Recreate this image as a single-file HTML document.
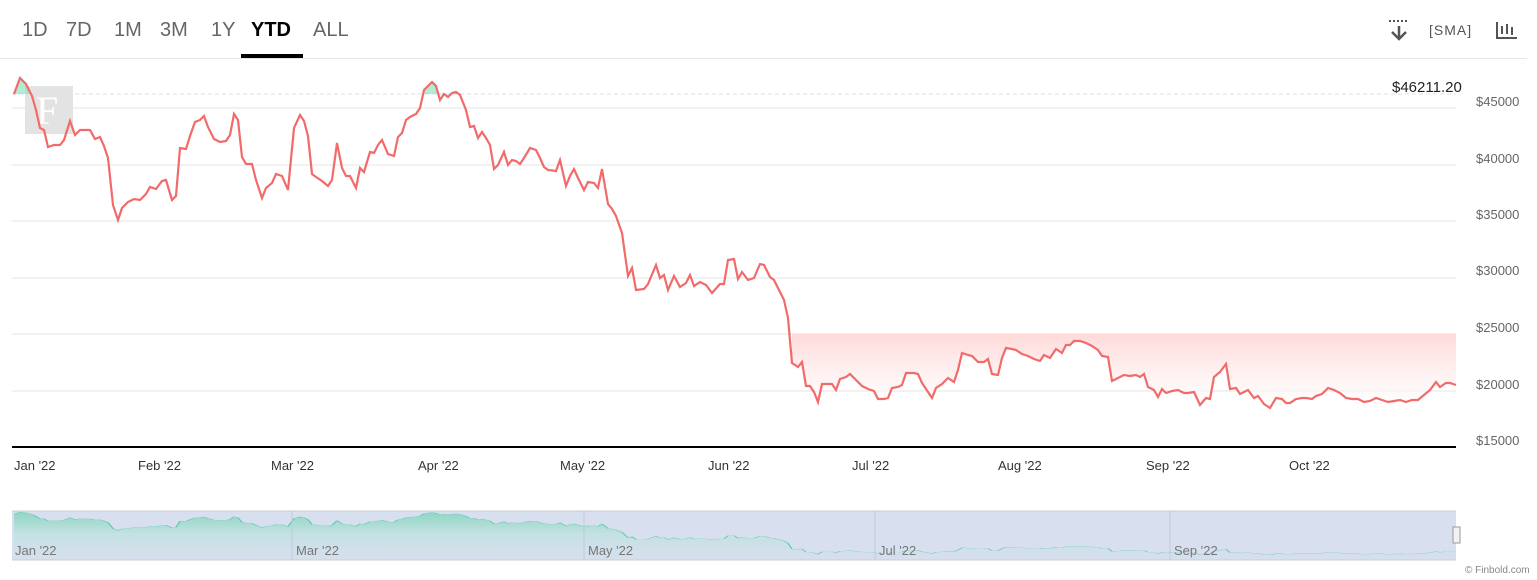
<!DOCTYPE html>
<html><head><meta charset="utf-8"><style>
body{margin:0;width:1537px;height:580px;background:#fff;font-family:"Liberation Sans",sans-serif;overflow:hidden;position:relative}
.tab{position:absolute;top:19px;font-size:20px;color:#666}
</style></head><body>
<div class="tab" style="left:22px">1D</div>
<div class="tab" style="left:66px">7D</div>
<div class="tab" style="left:114px">1M</div>
<div class="tab" style="left:160px">3M</div>
<div class="tab" style="left:211px">1Y</div>
<div class="tab" style="left:251px;color:#000;font-weight:bold">YTD</div>
<div class="tab" style="left:313px">ALL</div>
<div style="position:absolute;left:241px;top:54px;width:62px;height:4px;background:#000"></div>
<div style="position:absolute;left:0;top:58px;width:1527px;height:1px;background:#e6e6e6"></div>
<div style="position:absolute;left:1429px;top:22px;font-size:14px;color:#555;letter-spacing:1px">[SMA]</div>
<svg width="1537" height="580" style="position:absolute;left:0;top:0">
<defs>
<linearGradient id="pk" x1="0" y1="0" x2="0" y2="1"><stop offset="0" stop-color="#ffd6d6" stop-opacity=".9"/><stop offset="1" stop-color="#fff" stop-opacity=".6"/></linearGradient>
<linearGradient id="nv" gradientUnits="userSpaceOnUse" x1="0" y1="78" x2="0" y2="447"><stop offset="0" stop-color="#8fd6c2"/><stop offset="0.45" stop-color="#c4e1e3"/><stop offset="1" stop-color="#d8dfee"/></linearGradient>
<polyline id="ln" fill="none" points="14,94 20,78 26,84 32,96 36,110 40,128 44,130 48,147 54,145 60,145 64,140 70,121 75,135 80,130 90,130 95,139 100,137 104,146 108,158 113,205 118,220 122,208 128,202 134,199 140,200 146,194 150,187 156,189 162,181 166,180 172,200 176,196 180,148 186,149 190,136 195,122 200,120 204,116 208,127 214,139 220,142 226,141 230,135 234,114 238,120 242,157 246,164 252,164 256,180 262,198 266,188 272,183 276,174 282,176 288,190 294,128 300,115 304,121 308,136 312,174 316,177 322,181 328,186 332,180 337,143 342,168 346,176 350,176 356,188 360,168 364,172 370,152 374,153 378,145 382,140 388,154 394,156 398,137 402,133 406,120 410,117 416,114 420,108 424,90 432,82 436,86 440,100 444,94 448,97 452,93 456,92 460,95 466,110 470,127 474,126 478,138 482,132 486,138 490,145 494,169 498,165 504,152 508,165 512,160 516,161 520,164 524,158 530,148 536,150 540,158 544,167 548,170 556,171 560,160 566,186 570,176 574,169 578,178 584,190 588,182 594,183 598,188 602,169 608,204 612,209 616,216 622,233 628,276 632,268 636,290 644,289 648,284 656,265 660,278 664,275 668,290 674,276 680,287 686,283 690,275 694,286 700,282 706,285 712,293 720,284 724,284 728,260 734,259 738,279 742,272 748,280 754,278 760,264 764,265 770,277 774,280 780,292 784,300 788,318 792,363 798,367 802,362 806,386 810,386 814,392 818,402 822,384 828,384 832,384 836,390 840,379 846,377 850,374 856,380 862,386 868,389 874,391 878,399 884,399 888,398 892,388 898,387 902,385 906,373 914,373 918,374 922,383 928,392 932,398 936,388 942,384 948,378 954,382 958,370 962,353 968,355 972,356 978,362 984,362 988,359 992,374 998,375 1002,358 1006,348 1012,349 1016,350 1022,354 1028,356 1034,359 1040,361 1044,355 1050,358 1056,349 1062,353 1066,345 1070,345 1074,341 1080,341 1086,343 1092,346 1098,350 1102,356 1108,357 1112,381 1118,378 1124,375 1130,376 1136,375 1140,377 1144,374 1148,387 1154,390 1158,397 1162,389 1166,393 1172,391 1178,390 1184,393 1188,393 1194,392 1200,405 1206,398 1210,399 1214,377 1220,372 1226,364 1230,389 1236,388 1240,394 1244,392 1248,390 1254,398 1258,396 1264,404 1270,408 1276,398 1282,399 1286,403 1290,403 1296,399 1302,398 1306,398 1312,399 1316,396 1322,394 1328,388 1334,390 1340,393 1346,398 1352,399 1358,399 1364,402 1370,401 1376,398 1382,400 1388,402 1394,401 1400,400 1406,402 1412,400 1418,400 1424,395 1430,390 1436,382 1440,387 1446,383 1450,383 1456,385"/>
<clipPath id="navclip"><rect x="12" y="511" width="1444" height="49"/></clipPath>
</defs>
<g stroke="#e6e6e6" stroke-width="1">
<line x1="12" x2="1456" y1="108" y2="108"/><line x1="12" x2="1456" y1="165" y2="165"/><line x1="12" x2="1456" y1="221" y2="221"/><line x1="12" x2="1456" y1="278" y2="278"/><line x1="12" x2="1456" y1="334" y2="334"/><line x1="12" x2="1456" y1="391" y2="391"/>
</g>
<line x1="12" x2="1456" y1="94" y2="94" stroke="#dde" stroke-dasharray="4,3"/>
<rect x="25" y="86" width="48" height="48" fill="#e3e3e3"/>
<text x="36" y="124" font-family="Liberation Serif,serif" font-size="40" fill="#fff">F</text>
<polygon fill="url(#pk)" points="792,334 792,363 798,367 802,362 806,386 810,386 814,392 818,402 822,384 828,384 832,384 836,390 840,379 846,377 850,374 856,380 862,386 868,389 874,391 878,399 884,399 888,398 892,388 898,387 902,385 906,373 914,373 918,374 922,383 928,392 932,398 936,388 942,384 948,378 954,382 958,370 962,353 968,355 972,356 978,362 984,362 988,359 992,374 998,375 1002,358 1006,348 1012,349 1016,350 1022,354 1028,356 1034,359 1040,361 1044,355 1050,358 1056,349 1062,353 1066,345 1070,345 1074,341 1080,341 1086,343 1092,346 1098,350 1102,356 1108,357 1112,381 1118,378 1124,375 1130,376 1136,375 1140,377 1144,374 1148,387 1154,390 1158,397 1162,389 1166,393 1172,391 1178,390 1184,393 1188,393 1194,392 1200,405 1206,398 1210,399 1214,377 1220,372 1226,364 1230,389 1236,388 1240,394 1244,392 1248,390 1254,398 1258,396 1264,404 1270,408 1276,398 1282,399 1286,403 1290,403 1296,399 1302,398 1306,398 1312,399 1316,396 1322,394 1328,388 1334,390 1340,393 1346,398 1352,399 1358,399 1364,402 1370,401 1376,398 1382,400 1388,402 1394,401 1400,400 1406,402 1412,400 1418,400 1424,395 1430,390 1436,382 1440,387 1446,383 1450,383 1456,385 1456,334"/>
<polygon fill="#7fe0b4" opacity=".6" points="14,94 20,78 26,84 32,94"/>
<polygon fill="#7fe0b4" opacity=".6" points="423,94 424,90 432,82 436,86 439,94"/>
<polygon fill="#7fe0b4" opacity=".6" points="452,94 452,93 456,92 459,94"/>
<use href="#ln" stroke="#f26a6a" stroke-width="2.2"/>
<line x1="12" x2="1456" y1="447" y2="447" stroke="#000" stroke-width="2"/>
<g font-size="13" fill="#666">
<text x="1476" y="106">$45000</text><text x="1476" y="163">$40000</text><text x="1476" y="219">$35000</text><text x="1476" y="275">$30000</text><text x="1476" y="332">$25000</text><text x="1476" y="389">$20000</text><text x="1476" y="445">$15000</text>
</g>
<text x="1392" y="92" font-size="15" fill="#222">$46211.20</text>
<g font-size="13" fill="#333">
<text x="14" y="470">Jan '22</text><text x="138" y="470">Feb '22</text><text x="271" y="470">Mar '22</text><text x="418" y="470">Apr '22</text><text x="560" y="470">May '22</text><text x="708" y="470">Jun '22</text><text x="852" y="470">Jul '22</text><text x="998" y="470">Aug '22</text><text x="1146" y="470">Sep '22</text><text x="1289" y="470">Oct '22</text>
</g>
<!-- navigator -->
<rect x="12" y="511" width="1444" height="49" fill="#d8dfee"/>
<g clip-path="url(#navclip)">
<g transform="translate(0,501.9) scale(1,0.13)">
<polygon fill="url(#nv)" points="14,94 20,78 26,84 32,96 36,110 40,128 44,130 48,147 54,145 60,145 64,140 70,121 75,135 80,130 90,130 95,139 100,137 104,146 108,158 113,205 118,220 122,208 128,202 134,199 140,200 146,194 150,187 156,189 162,181 166,180 172,200 176,196 180,148 186,149 190,136 195,122 200,120 204,116 208,127 214,139 220,142 226,141 230,135 234,114 238,120 242,157 246,164 252,164 256,180 262,198 266,188 272,183 276,174 282,176 288,190 294,128 300,115 304,121 308,136 312,174 316,177 322,181 328,186 332,180 337,143 342,168 346,176 350,176 356,188 360,168 364,172 370,152 374,153 378,145 382,140 388,154 394,156 398,137 402,133 406,120 410,117 416,114 420,108 424,90 432,82 436,86 440,100 444,94 448,97 452,93 456,92 460,95 466,110 470,127 474,126 478,138 482,132 486,138 490,145 494,169 498,165 504,152 508,165 512,160 516,161 520,164 524,158 530,148 536,150 540,158 544,167 548,170 556,171 560,160 566,186 570,176 574,169 578,178 584,190 588,182 594,183 598,188 602,169 608,204 612,209 616,216 622,233 628,276 632,268 636,290 644,289 648,284 656,265 660,278 664,275 668,290 674,276 680,287 686,283 690,275 694,286 700,282 706,285 712,293 720,284 724,284 728,260 734,259 738,279 742,272 748,280 754,278 760,264 764,265 770,277 774,280 780,292 784,300 788,318 792,363 798,367 802,362 806,386 810,386 814,392 818,402 822,384 828,384 832,384 836,390 840,379 846,377 850,374 856,380 862,386 868,389 874,391 878,399 884,399 888,398 892,388 898,387 902,385 906,373 914,373 918,374 922,383 928,392 932,398 936,388 942,384 948,378 954,382 958,370 962,353 968,355 972,356 978,362 984,362 988,359 992,374 998,375 1002,358 1006,348 1012,349 1016,350 1022,354 1028,356 1034,359 1040,361 1044,355 1050,358 1056,349 1062,353 1066,345 1070,345 1074,341 1080,341 1086,343 1092,346 1098,350 1102,356 1108,357 1112,381 1118,378 1124,375 1130,376 1136,375 1140,377 1144,374 1148,387 1154,390 1158,397 1162,389 1166,393 1172,391 1178,390 1184,393 1188,393 1194,392 1200,405 1206,398 1210,399 1214,377 1220,372 1226,364 1230,389 1236,388 1240,394 1244,392 1248,390 1254,398 1258,396 1264,404 1270,408 1276,398 1282,399 1286,403 1290,403 1296,399 1302,398 1306,398 1312,399 1316,396 1322,394 1328,388 1334,390 1340,393 1346,398 1352,399 1358,399 1364,402 1370,401 1376,398 1382,400 1388,402 1394,401 1400,400 1406,402 1412,400 1418,400 1424,395 1430,390 1436,382 1440,387 1446,383 1450,383 1456,385 1456,450 14,450"/>
<use href="#ln" stroke="#5fc9ae" stroke-width="1.5" vector-effect="non-scaling-stroke"/>
</g>
</g>
<line x1="12" x2="1456" y1="511" y2="511" stroke="#ccc"/>
<line x1="12" x2="1456" y1="560" y2="560" stroke="#ccc"/>
<g stroke="#c2c8d8"><line x1="292" x2="292" y1="511" y2="560"/><line x1="584" x2="584" y1="511" y2="560"/><line x1="875" x2="875" y1="511" y2="560"/><line x1="1170" x2="1170" y1="511" y2="560"/></g>
<g font-size="13" fill="#777"><text x="15" y="555">Jan '22</text><text x="296" y="555">Mar '22</text><text x="588" y="555">May '22</text><text x="879" y="555">Jul '22</text><text x="1174" y="555">Sep '22</text></g>
<rect x="1453" y="527" width="7" height="16" fill="#f2f2f2" stroke="#999"/>
<text x="1465" y="573" font-size="10" fill="#888">© Finbold.com</text>
<g fill="#555" stroke="#555">
<line x1="1389" y1="21" x2="1409" y2="21" stroke-dasharray="2,2" stroke-width="2"/>
<path d="M1399 26 V38 M1392 32 L1399 39 L1406 32" fill="none" stroke-width="2.5"/>
<path d="M1497 22 V38 H1517" fill="none" stroke-width="2"/>
<rect x="1501" y="26" width="2" height="8" stroke="none"/><rect x="1506" y="24" width="2" height="10" stroke="none"/><rect x="1511" y="27" width="2" height="8" stroke="none"/>
</g>
</svg>
</body></html>
